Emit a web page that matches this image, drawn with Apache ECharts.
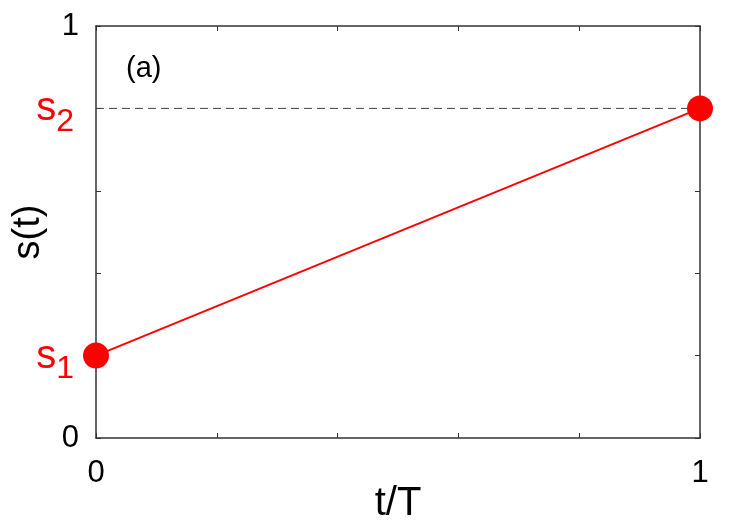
<!DOCTYPE html>
<html>
<head>
<meta charset="utf-8">
<script src="https://cdn.jsdelivr.net/npm/echarts@6/dist/echarts.min.js"></script>
<style>
  html, body { margin: 0; padding: 0; background: #fff; }
  #chart { width: 747px; height: 523px; }
</style>
</head>
<body>
<div id="chart"></div>
<script>
// tick positions and labels
const xTicks = [0, 0.2, 0.4, 0.6, 0.8, 1];
const xTickLabels = ['0', '', '', '', '', '1'];
const yTicks = [0, 0.2, 0.4, 0.6, 0.8, 1];
const yTickLabels = ['0', '{s|s}{sub|1}', '', '', '{s|s}{sub|2}', '1'];

// s(t) linear from s1 to s2
const tValues = [0, 1];
const sValues = [0.2, 0.8];
const s2Level = 0.8;

const font = 'Liberation Sans, Arial, sans-serif';

function labelFor(ticks, labels) {
  return v => {
    const i = ticks.findIndex(t => Math.abs(t - v) < 1e-6);
    return i >= 0 ? labels[i] : '';
  };
}

const chart = echarts.init(document.getElementById('chart'));
const frame = { show: true, onZero: false, lineStyle: { color: '#333', width: 1.5 } };
const ticksIn = { show: true, inside: true, length: 5, lineStyle: { color: '#333', width: 1 } };

chart.setOption({
  backgroundColor: '#fff',
  animation: false,
  grid: { left: 96, right: 47, top: 26, bottom: 85, containLabel: false, outerBoundsMode: 'none' },
  xAxis: [{
    type: 'value', min: 0, max: 1, interval: 0.2,
    name: 't/T', nameLocation: 'middle', nameGap: 46, nameMoveOverlap: false,
    nameTextStyle: { fontFamily: font, fontSize: 40, color: '#000' },
    axisLine: frame, axisTick: ticksIn, splitLine: { show: false },
    axisLabel: {
      fontFamily: font, fontSize: 31, color: '#000', margin: 20,
      showMinLabel: true, showMaxLabel: true,
      formatter: labelFor(xTicks, xTickLabels)
    }
  }, {
    type: 'value', min: 0, max: 1, interval: 0.2, position: 'top',
    axisLine: frame, axisTick: ticksIn, axisLabel: { show: false }, splitLine: { show: false }
  }],
  yAxis: [{
    type: 'value', min: 0, max: 1, interval: 0.2,
    name: 's(t)', nameLocation: 'middle', nameGap: 48, nameRotate: 90, nameMoveOverlap: false,
    nameTextStyle: { fontFamily: font, fontSize: 38, color: '#000' },
    axisLine: frame, axisTick: ticksIn, splitLine: { show: false },
    axisLabel: {
      fontFamily: font, fontSize: 31, color: '#000', margin: 17,
      showMinLabel: true, showMaxLabel: true,
      formatter: labelFor(yTicks, yTickLabels),
      rich: {
        s: { fontFamily: font, fontSize: 40, color: '#f00', padding: [2, 0, 0, 0] },
        sub: { fontFamily: font, fontSize: 32, color: '#f00', padding: [28, 5, 0, 0] }
      }
    }
  }, {
    type: 'value', min: 0, max: 1, interval: 0.2, position: 'right',
    axisLine: frame, axisTick: ticksIn, axisLabel: { show: false }, splitLine: { show: false }
  }],
  graphic: [{
    type: 'text', left: 126, top: 54,
    style: { text: '(a)', fontFamily: font, fontSize: 29, fill: '#000' }
  }],
  series: [{
    type: 'line',
    data: tValues.map(t => [t, s2Level]),
    symbol: 'none', silent: true,
    lineStyle: { color: '#444', width: 1, type: [8, 5] },
    z: 1
  }, {
    type: 'line',
    data: tValues.map((t, i) => [t, sValues[i]]),
    symbol: 'circle', symbolSize: 26, showAllSymbol: true,
    itemStyle: { color: '#f00' },
    lineStyle: { color: '#f00', width: 2 },
    clip: false, silent: true,
    z: 3
  }]
});
</script>
</body>
</html>
